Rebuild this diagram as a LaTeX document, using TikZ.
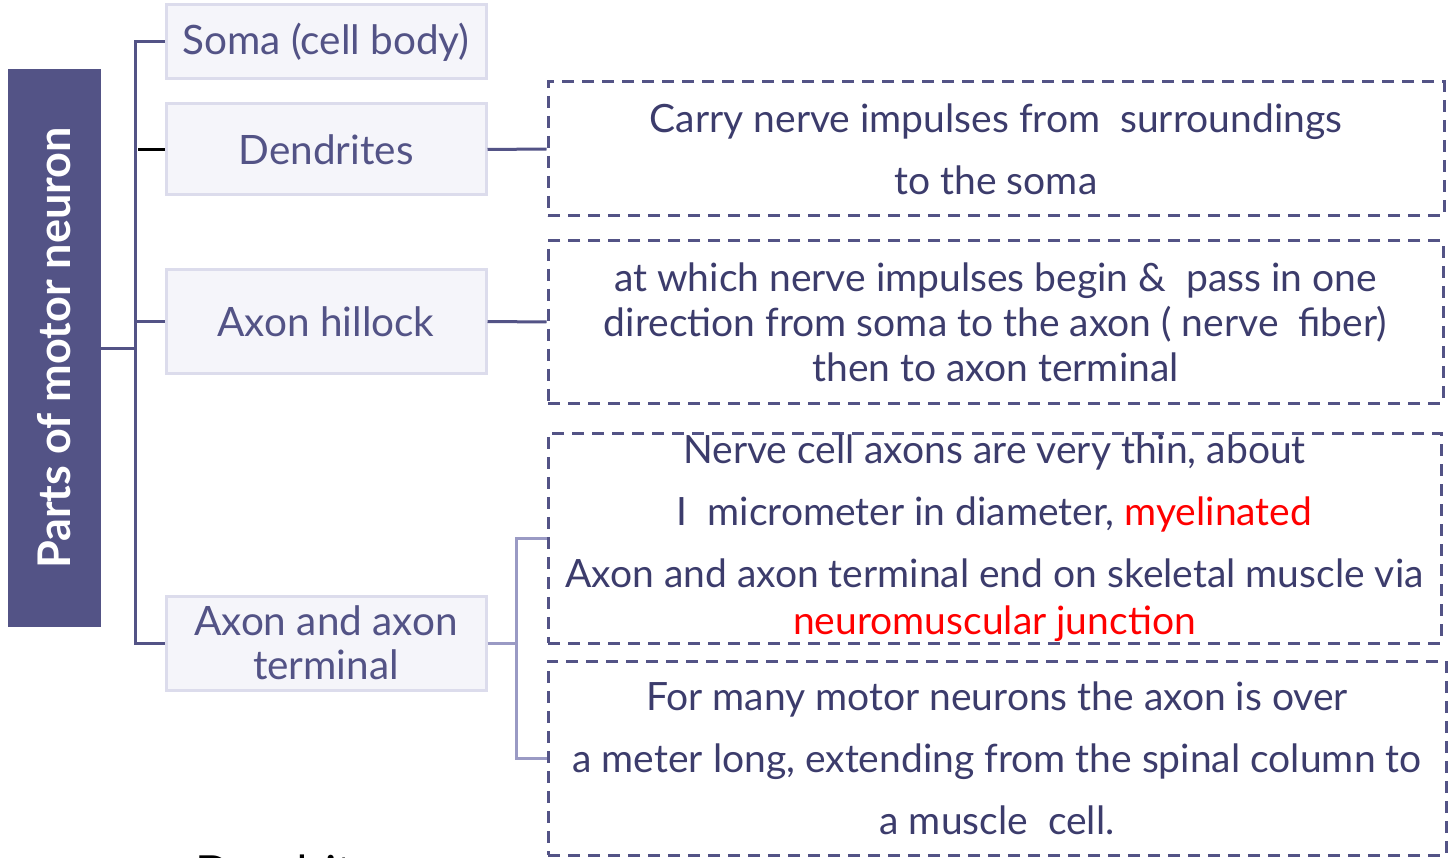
\documentclass[tikz,border=0pt]{standalone}
\usepackage{fontspec}
\setmainfont{Lato}
\usetikzlibrary{calc}
\definecolor{navy}{HTML}{535386}
\definecolor{boxfill}{HTML}{F5F5FA}
\definecolor{boxline}{HTML}{DCDCEC}
\definecolor{bracketc}{HTML}{9A9AC4}
\definecolor{bodytext}{HTML}{3C3C6C}
\definecolor{hot}{HTML}{FF0000}
\tikzset{
  part/.style={draw=boxline, line width=3pt, fill=boxfill, text=navy,
    minimum width=320pt, align=center, inner sep=0pt,
    font=\fontsize{40.5}{44}\selectfont},
  note/.style={draw=navy, line width=3pt, dash pattern=on 12pt off 8pt,
    text=bodytext, align=center, inner sep=0pt,
    font=\fontsize{39}{62}\selectfont},
  trunk/.style={draw=navy, line width=3pt},
  bracket/.style={draw=bracketc, line width=3pt}
}
\begin{document}
\begin{tikzpicture}[x=1pt, y=-1pt]
\useasboundingbox (0,0) rectangle (1450,858);

% title bar
\node[fill=navy, minimum width=93pt, minimum height=558pt, inner sep=0pt]
  (title) at (54.5,348)
  {\rotatebox{90}{\color{white}\bfseries\fontsize{45}{48}\selectfont Parts of motor neuron}};

% the four parts
\node[part, minimum height=74pt]  (soma) at (326,42)    {Soma (cell body)};
\node[part, minimum height=91pt]  (dend) at (326,149.5) {Dendrites};
\node[part, minimum height=103pt] (hill) at (326,321.5) {Axon hillock};
\node[part, minimum height=94pt]  (term) at (326,643)   {Axon and axon\\terminal};

% descriptions
\node[note, minimum width=896pt, minimum height=134pt] (d1) at (996,149)
  {Carry nerve impulses from \ surroundings\\to the soma};
\node[note, minimum width=895pt, minimum height=162pt,
  font=\fontsize{39}{45}\selectfont] (d2) at (995.5,322)
  {at which nerve impulses begin \& \ pass in one\\
   direction from soma to the axon ( nerve \ fiber)\\
   then to axon terminal};
\node[note, minimum width=893pt, minimum height=210pt] (d3) at (994.5,538)
  {Nerve cell axons are very thin, about\\
   I \ micrometer in diameter, {\color{hot}myelinated}\\
   Axon and axon terminal end on skeletal muscle via\\[-15pt]
   {\color{hot}neuromuscular junction}};
\node[note, minimum width=898pt, minimum height=194pt] (d4) at (997,758)
  {For many motor neurons the axon is over\\
   a meter long, extending from the spinal column to\\
   a muscle \ cell.};

% tree connectors
\coordinate (tr) at (135,348);
\draw[trunk] (title.east) -- (tr);
\draw[trunk] (soma.west) -| (tr) |- (term.west);
\draw[trunk] (hill.west) -- (hill.west -| tr);
\draw[line width=3pt, black] (dend.west) -- ($(dend.west -| tr)+(3,0)$);
\draw[trunk] (dend.east) -- (d1.west);
\draw[trunk] (hill.east) -- (d2.west);

\coordinate (bk) at (516,643);
\draw[bracket] (term.east) -- (bk);
\draw[bracket] (d3.west) -| (bk) |- (d4.west);

% caption running off the lower edge
\node[anchor=base, text=black, font=\fontsize{47}{50}\selectfont, inner sep=0pt]
  (cut) at (297,889) {Dendrites};
\end{tikzpicture}
\end{document}
